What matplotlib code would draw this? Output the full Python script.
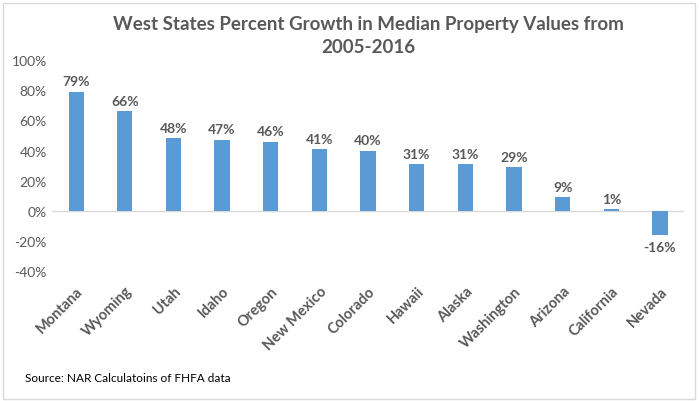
import numpy as np
import matplotlib.pyplot as plt
import matplotlib.transforms as mtransforms
from matplotlib.patches import Rectangle

plt.rcParams['font.family'] = ['Lato', 'DejaVu Sans']

states = ['Montana', 'Wyoming', 'Utah', 'Idaho', 'Oregon', 'New Mexico', 'Colorado',
          'Hawaii', 'Alaska', 'Washington', 'Arizona', 'California', 'Nevada']
growth = [79, 66, 48, 47, 46, 41, 40, 31, 31, 29, 9, 1, -16]
yticks = [-40, -20, 0, 20, 40, 60, 80, 100]

gray = '#595959'
fig = plt.figure(figsize=(6.99, 4.02), dpi=100)
ax = fig.add_axes([0.074, 0.323, 0.905, 0.525])

x = np.arange(len(states))
ax.bar(x, growth, width=0.31, color='#5B9BD5', zorder=2)
ax.axhline(0, color='#D9D9D9', lw=1, zorder=1)

for xi, v in zip(x, growth):
    if v >= 0:
        ax.text(xi, v + 3, f'{v}%', ha='center', va='bottom', fontsize=10,
                fontweight='bold', color=gray)
    else:
        ax.text(xi, v - 4, f'{v}%', ha='center', va='top', fontsize=10,
                fontweight='bold', color=gray)

ax.set_xlim(-0.5, len(states) - 0.5)
ax.set_ylim(-40, 100)
ax.set_yticks(yticks)
ax.set_yticklabels([f'{t}%' for t in yticks], fontsize=10, color=gray)
ax.set_xticks(x)
ax.set_xticklabels(states, rotation=45, ha='right', rotation_mode='anchor',
                   fontsize=10.5, fontweight='bold', color=gray)
offset = mtransforms.ScaledTranslation(0.12, 0, fig.dpi_scale_trans)
for lab in ax.get_xticklabels():
    lab.set_transform(lab.get_transform() + offset)
ax.tick_params(axis='both', length=0)
ax.tick_params(axis='x', pad=9)
for s in ax.spines.values():
    s.set_visible(False)

fig.text(0.527, 0.96, 'West States Percent Growth in Median Property Values from\n2005-2016',
         ha='center', va='top', fontsize=13.5, fontweight='bold', color=gray,
         linespacing=1.45)
fig.text(0.036, 0.05, 'Source: NAR Calculatoins of FHFA data', fontsize=8.5, color='black')

fig.patches.append(Rectangle((0.004, 0.005), 0.99, 0.985, transform=fig.transFigure,
                             fill=False, edgecolor='#D9D9D9', lw=1))

fig.savefig('out.png', dpi=100)
